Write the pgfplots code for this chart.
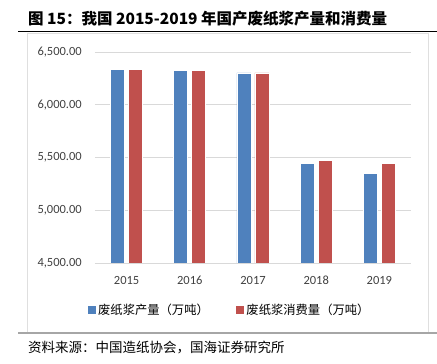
\documentclass[border=0pt]{standalone}
\usepackage{fontspec}
\usepackage{pgfplots}
\pgfplotsset{compat=1.18}
\setmainfont{Carlito}
\newfontfamily\cjk{Noto Sans CJK SC}
\definecolor{cblue}{HTML}{4F81BD}
\definecolor{cred}{HTML}{C0504D}
\definecolor{tickc}{HTML}{404040}
\begin{document}
\begin{tikzpicture}
\useasboundingbox (0,0) rectangle (437pt,364pt);
\draw[gray!25, line width=0.8pt] (27pt,32pt) rectangle (428pt,331pt);
\draw[black, line width=1pt] (18pt,332pt) -- (437pt,332pt);
\draw[gray!70, line width=2pt] (18pt,30.5pt) -- (437pt,30.5pt);
\node[anchor=west, inner sep=0pt, font=\cjk\bfseries\fontsize{15.5}{18}\selectfont] at (28pt,345pt) {图 15：我国 2015-2019 年国产废纸浆产量和消费量};
\node[anchor=west, inner sep=0pt, font=\cjk\fontsize{13.5}{16}\selectfont] at (28pt,16pt) {资料来源：中国造纸协会，国海证券研究所};
\begin{axis}[
  at={(95pt,101pt)}, anchor=south west,
  scale only axis, width=316pt, height=211pt,
  ybar=4pt, bar width=14pt,
  xmin=-0.5, xmax=4.5, ymin=4500, ymax=6500,
  xtick=data, xticklabels={2015,2016,2017,2018,2019},
  ytick={4500,5000,5500,6000,6500},
  major tick length=0pt,
  axis line style={draw=none},
  ymajorgrids, grid style={draw=gray!30, line width=0.8pt},
  /pgf/number format/assume math mode=true,
  yticklabel style={/pgf/number format/fixed, /pgf/number format/fixed zerofill, /pgf/number format/precision=2, /pgf/number format/1000 sep={,}},
  scaled y ticks=false,
  tick label style={font=\fontsize{12.5}{14}\selectfont, text=tickc},
  yticklabel style={anchor=east, inner sep=0pt, xshift=-13pt},
  xticklabel style={anchor=center, inner sep=0pt, yshift=-17pt},
  legend style={at={(0.4225,-0.2227)}, anchor=center, draw=none, fill=none,
    legend columns=2, inner sep=0pt,
    font=\cjk\fontsize{12.3}{14}\selectfont,
    nodes={inner sep=0pt, anchor=west},
    /tikz/every even column/.append style={column sep=27pt}},
  legend cell align=left,
]
\addplot[fill=cblue, draw=white, line width=0.6pt,
  legend image code/.code={\fill[cblue] (0pt,-3.5pt) rectangle (7pt,3.5pt); \path (10pt,0pt);}]
  coordinates {(0,6338) (1,6329) (2,6302) (3,5444) (4,5351)};
\addplot[fill=cred, draw=white, line width=0.6pt,
  legend image code/.code={\fill[cred] (0pt,-3.5pt) rectangle (7pt,3.5pt); \path (10pt,0pt);}]
  coordinates {(0,6338) (1,6329) (2,6302) (3,5474) (4,5443)};
\legend{废纸浆产量（万吨）,废纸浆消费量（万吨）}
\end{axis}
\end{tikzpicture}
\end{document}
